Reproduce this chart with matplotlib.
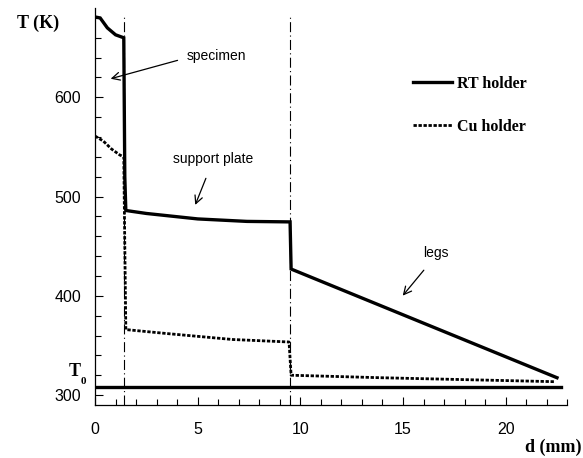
import matplotlib
matplotlib.use("Agg")
import matplotlib.pyplot as plt
from matplotlib.ticker import MultipleLocator

# Data
rt_x = [0.0, 0.25, 0.6, 1.0, 1.4, 1.45, 1.5, 2.5, 5.0, 7.4, 9.5, 9.55, 22.5]
rt_T = [681, 680, 670, 663, 660, 520, 486, 483, 477.5, 475, 474.5, 427, 317.5]

cu_x = [0.0, 0.4, 0.8, 1.2, 1.4, 1.45, 1.5, 3.5, 6.7, 9.45, 9.55, 13.9, 22.4]
cu_T = [561, 556, 548, 542, 540, 450, 366, 362, 356, 353.5, 320, 317.5, 313.5]

T0 = 308
T0_x = [0.0, 22.7]
boundaries = [1.4, 9.5]

xlim = (0, 23)
ylim = (290, 690)
yticks = [300, 400, 500, 600]
xticks = [0, 5, 10, 15, 20]

annotations = [
    ("specimen", (0.63, 618), (4.15, 638), (5.9, 642)),
    ("support plate", (4.83, 489), (5.45, 521), (5.75, 538)),
    ("legs", (14.9, 398), (16.1, 428), (16.6, 443)),
]

serif = "Liberation Serif"
sans = "Liberation Sans"

fig = plt.figure(figsize=(5.83, 4.58), dpi=100)
ax = fig.add_axes([0.163, 0.1157, 0.81, 0.8668])

rt_line, = ax.plot(rt_x, rt_T, color="black", lw=2.4, solid_joinstyle="miter")
cu_line, = ax.plot(cu_x, cu_T, color="black", lw=2.0, linestyle=(0, (1.2, 0.6)))
ax.plot(T0_x, [T0, T0], color="black", lw=2.4)

for b in boundaries:
    ax.plot([b, b], [ylim[0], 682], color="black", lw=0.8,
            linestyle=(0, (9, 3, 1, 3)))

ax.set_xlim(*xlim)
ax.set_ylim(*ylim)
ax.set_xticks(xticks)
ax.set_yticks(yticks)
ax.xaxis.set_minor_locator(MultipleLocator(1))
ax.yaxis.set_minor_locator(MultipleLocator(20))
ax.tick_params(which="both", direction="in", width=0.8)
ax.tick_params(which="major", length=6)
ax.tick_params(which="minor", length=4)
ax.tick_params(axis="x", which="major", pad=12)
ax.tick_params(axis="y", which="major", pad=10)
for lab in ax.get_xticklabels() + ax.get_yticklabels():
    lab.set_family(sans)
    lab.set_fontsize(11.5)
for s in ("top", "right"):
    ax.spines[s].set_visible(False)
for s in ("left", "bottom"):
    ax.spines[s].set_linewidth(0.9)

for label, head, tail, textpos in annotations:
    ax.annotate("", xy=head, xytext=tail,
                arrowprops=dict(arrowstyle="->", color="black", lw=0.9,
                                mutation_scale=14))
    ax.text(textpos[0], textpos[1], label, ha="center", va="center",
            fontsize=10, family=sans)

fig.text(0.03, 0.95, "T (K)", family=serif, fontweight="bold", fontsize=13,
         ha="left", va="center")
fig.text(0.998, 0.023, "d (mm)", family=serif, fontweight="bold", fontsize=13,
         ha="right", va="center")
ax.text(-0.72, 323.5, "T", ha="right", va="center", fontsize=13,
        family=serif, fontweight="bold")
ax.text(-0.72, 314, "0", ha="left", va="center", fontsize=8,
        family=serif, fontweight="bold")

leg = ax.legend([rt_line, cu_line], ["RT holder", "Cu holder"],
                loc="center left", bbox_to_anchor=(0.683, 0.77),
                bbox_transform=fig.transFigure, frameon=False,
                prop=dict(family=serif, weight="bold", size=11.5),
                handlelength=2.5, handletextpad=0.3, labelspacing=1.7)

fig.savefig("out.png", dpi=100)
